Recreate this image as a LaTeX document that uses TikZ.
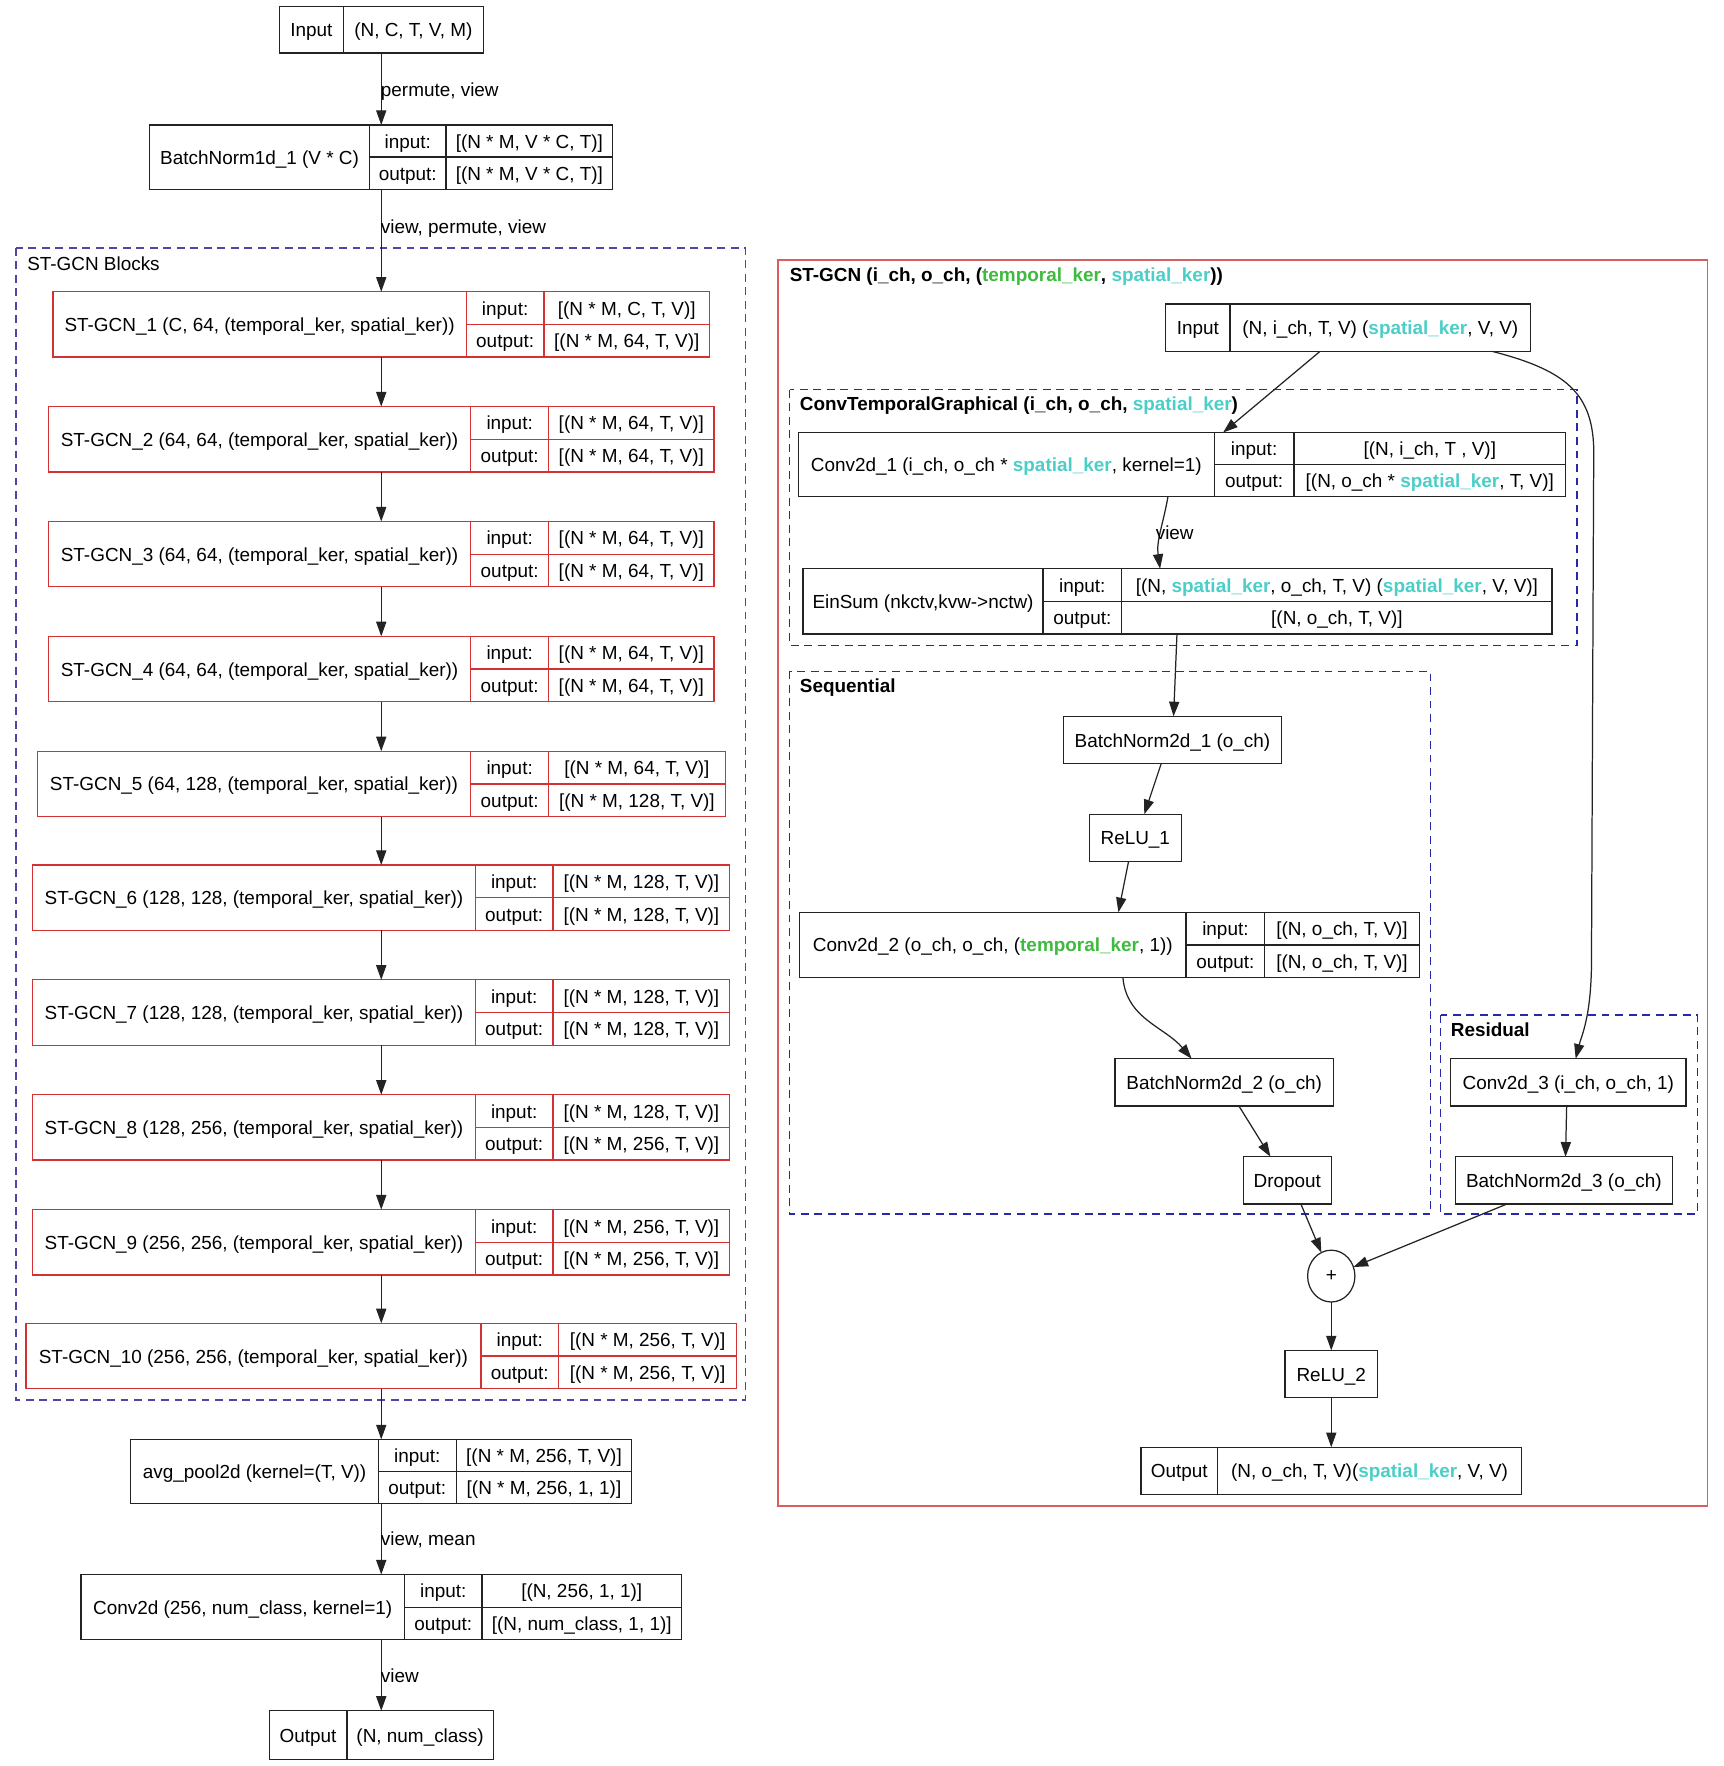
\documentclass[tikz,border=0pt]{standalone}
\usepackage{fontspec}
\setmainfont{Liberation Sans}
\usetikzlibrary{arrows.meta,shapes.geometric}
\definecolor{kgreen}{RGB}{62,186,62}
\definecolor{kcyan}{RGB}{76,206,200}
\definecolor{nred}{RGB}{210,50,50}
\definecolor{cred}{RGB}{215,95,95}
\definecolor{cblueA}{RGB}{80,70,165}
\definecolor{cblueB}{RGB}{40,40,170}
\definecolor{lc}{RGB}{35,35,35}
\newcommand\TK{\textcolor{kgreen}{\bfseries temporal\_ker}}
\newcommand\SK{\textcolor{kcyan}{\bfseries spatial\_ker}}
\newcommand\fs{\fontsize{16.8}{20}\selectfont}
\newcommand\Rec[8]{%
  \node[box, draw=#8, minimum width={(#4-#2)*1pt}, minimum height={(#5-#3)*1pt}] (#1) at ({(#2+#4)/2},{(#3+#5)/2}) {};
  \draw[draw=#8, line width=1.1pt] (#6,#3) -- (#6,#5) (#7,#3) -- (#7,#5) (#6,{(#3+#5)/2}) -- (#4,{(#3+#5)/2});
  \coordinate (#1-n) at ({(#2+#6)/2},{(#3+#5)/2});
  \coordinate (#1-i) at ({(#6+#7)/2},{(3*#3+#5)/4});
  \coordinate (#1-o) at ({(#6+#7)/2},{(#3+3*#5)/4});
  \coordinate (#1-iv) at ({(#7+#4)/2},{(3*#3+#5)/4});
  \coordinate (#1-ov) at ({(#7+#4)/2},{(#3+3*#5)/4});
}
\newcommand\RecTxt[4]{%
  \node[txt] (#1-N) at (#1-n) {#2};
  \node[txt] (#1-I) at (#1-i) {input:};
  \node[txt] (#1-O) at (#1-o) {output:};
  \node[txt] (#1-IV) at (#1-iv) {#3};
  \node[txt] (#1-OV) at (#1-ov) {#4};
}
\newcommand\Two[8]{%
  \node[box, minimum width={(#4-#2)*1pt}, minimum height={(#5-#3)*1pt}] (#1) at ({(#2+#4)/2},{(#3+#5)/2}) {};
  \draw[lc, line width=1.1pt] (#6,#3) -- (#6,#5);
  \node[txt] (#1-A) at ({(#2+#6)/2},{(#3+#5)/2}) {#7};
  \node[txt] (#1-B) at ({(#6+#4)/2},{(#3+#5)/2}) {#8};
}
\begin{document}
\begin{tikzpicture}[x=1pt,y=-1pt,
  box/.style={draw=lc, line width=1.1pt, inner sep=0pt, outer sep=0pt},
  txt/.style={inner sep=0pt, text height=15.5pt, text depth=3pt, font=\fs},
  sbox/.style={box, txt, minimum height=42pt},
  lbl/.style={inner sep=0pt, text height=15.5pt, text depth=3pt, font=\fs, anchor=west},
  blbl/.style={lbl, font=\fs\bfseries},
  arr/.style={draw=lc, line width=1.1pt, -{Triangle[length=13pt,width=9pt]}},
  dashA/.style={draw=cblueA, line width=1.3pt, dash pattern=on 7pt off 5pt},
  dashB/.style={draw=cblueB, line width=1.3pt, dash pattern=on 7pt off 5pt},
]
\useasboundingbox (0,0) rectangle (1530,1568);

% ---------- clusters ----------
\draw[dashA] (14,220) rectangle (662,1243);
\node[lbl] (lblocks) at (24,234) {ST-GCN Blocks};
\draw[draw=cred, line width=1.4pt] (691,231) rectangle (1516,1337);
\node[blbl] (lstgcn) at (701,244) {ST-GCN (i\_ch, o\_ch, (\TK, \SK))};
\draw[dashB] (701,346) rectangle (1400,573);
\node[blbl] (lctg) at (710,358) {ConvTemporalGraphical (i\_ch, o\_ch, \SK)};
\draw[dashB] (701,596) rectangle (1270,1078);
\node[blbl] (lseq) at (710,609) {Sequential};
\draw[dashB] (1279,901) rectangle (1507,1078);
\node[blbl] (lres) at (1288,914) {Residual};

% ---------- left column ----------
\Two{inp}{248}{6}{429}{47}{305}{Input}{(N, C, T, V, M)}
\Rec{bn1}{133}{111}{544}{168}{328}{396}{lc}
\RecTxt{bn1}{BatchNorm1d\_1 (V * C)}{[(N * M, V * C, T)]}{[(N * M, V * C, T)]}

\Rec{st1}{47}{259}{630}{317}{414}{483}{nred}
\RecTxt{st1}{ST-GCN\_1 (C, 64, (temporal\_ker, spatial\_ker))}{[(N * M, C, T, V)]}{[(N * M, 64, T, V)]}
\Rec{st2}{43}{361}{634}{419}{418}{487}{nred}
\RecTxt{st2}{ST-GCN\_2 (64, 64, (temporal\_ker, spatial\_ker))}{[(N * M, 64, T, V)]}{[(N * M, 64, T, V)]}
\Rec{st3}{43}{463}{634}{521}{418}{487}{nred}
\RecTxt{st3}{ST-GCN\_3 (64, 64, (temporal\_ker, spatial\_ker))}{[(N * M, 64, T, V)]}{[(N * M, 64, T, V)]}
\Rec{st4}{43}{565}{634}{623}{418}{487}{nred}
\RecTxt{st4}{ST-GCN\_4 (64, 64, (temporal\_ker, spatial\_ker))}{[(N * M, 64, T, V)]}{[(N * M, 64, T, V)]}
\Rec{st5}{33}{667}{644}{725}{418}{487}{nred}
\RecTxt{st5}{ST-GCN\_5 (64, 128, (temporal\_ker, spatial\_ker))}{[(N * M, 64, T, V)]}{[(N * M, 128, T, V)]}
\Rec{st6}{29}{768}{648}{826}{422}{491}{nred}
\RecTxt{st6}{ST-GCN\_6 (128, 128, (temporal\_ker, spatial\_ker))}{[(N * M, 128, T, V)]}{[(N * M, 128, T, V)]}
\Rec{st7}{29}{870}{648}{928}{422}{491}{nred}
\RecTxt{st7}{ST-GCN\_7 (128, 128, (temporal\_ker, spatial\_ker))}{[(N * M, 128, T, V)]}{[(N * M, 128, T, V)]}
\Rec{st8}{29}{972}{648}{1030}{422}{491}{nred}
\RecTxt{st8}{ST-GCN\_8 (128, 256, (temporal\_ker, spatial\_ker))}{[(N * M, 128, T, V)]}{[(N * M, 256, T, V)]}
\Rec{st9}{29}{1074}{648}{1132}{422}{491}{nred}
\RecTxt{st9}{ST-GCN\_9 (256, 256, (temporal\_ker, spatial\_ker))}{[(N * M, 256, T, V)]}{[(N * M, 256, T, V)]}
\Rec{st10}{23}{1175}{654}{1233}{427}{496}{nred}
\RecTxt{st10}{ST-GCN\_10 (256, 256, (temporal\_ker, spatial\_ker))}{[(N * M, 256, T, V)]}{[(N * M, 256, T, V)]}

\Rec{avg}{116}{1278}{561}{1335}{336}{405}{lc}
\RecTxt{avg}{avg\_pool2d (kernel=(T, V))}{[(N * M, 256, T, V)]}{[(N * M, 256, 1, 1)]}
\Rec{cv}{72}{1398}{605}{1456}{359}{428}{lc}
\RecTxt{cv}{Conv2d (256, num\_class, kernel=1)}{[(N, 256, 1, 1)]}{[(N, num\_class, 1, 1)]}
\Two{outl}{239}{1519}{438}{1562}{308}{Output}{(N, num\_class)}

\draw[arr] (inp.south) -- (bn1.north);
\node[lbl] (e1) at (338,79) {permute, view};
\draw[arr] (bn1.south) -- (st1.north);
\node[lbl] (e2) at (338,201) {view, permute, view};
\draw[arr] (st1.south) -- (st2.north);
\draw[arr] (st2.south) -- (st3.north);
\draw[arr] (st3.south) -- (st4.north);
\draw[arr] (st4.south) -- (st5.north);
\draw[arr] (st5.south) -- (st6.north);
\draw[arr] (st6.south) -- (st7.north);
\draw[arr] (st7.south) -- (st8.north);
\draw[arr] (st8.south) -- (st9.north);
\draw[arr] (st9.south) -- (st10.north);
\draw[arr] (st10.south) -- (avg.north);
\draw[arr] (avg.south) -- (cv.north);
\node[lbl] (e3) at (338,1366) {view, mean};
\draw[arr] (cv.south) -- (outl.north);
\node[lbl] (e4) at (338,1488) {view};

% ---------- right side ----------
\Two{ri}{1035}{270}{1359}{312}{1092}{Input}{(N, i\_ch, T, V) (\SK, V, V)}
\Rec{c1}{709}{384}{1390}{441}{1078}{1149}{lc}
\RecTxt{c1}{Conv2d\_1 (i\_ch, o\_ch * \SK, kernel=1)}{[(N, i\_ch, T , V)]}{[(N, o\_ch * \SK, T, V)]}
\Rec{es}{713}{505}{1378}{563}{926}{996}{lc}
\RecTxt{es}{EinSum (nkctv,kvw->nctw)}{[(N, \SK, o\_ch, T, V) (\SK, V, V)]}{[(N, o\_ch, T, V)]}
\node[sbox, minimum width=194pt] (bn21) at (1041,657) {BatchNorm2d\_1 (o\_ch)};
\node[sbox, minimum width=82pt] (relu1) at (1008,744) {ReLU\_1};
\Rec{c2}{710}{810}{1260}{868}{1053}{1123}{lc}
\RecTxt{c2}{Conv2d\_2 (o\_ch, o\_ch, (\TK, 1))}{[(N, o\_ch, T, V)]}{[(N, o\_ch, T, V)]}
\node[sbox, minimum width=194pt] (bn22) at (1087,961) {BatchNorm2d\_2 (o\_ch)};
\node[sbox, minimum width=78pt] (drop) at (1143,1048) {Dropout};
\node[sbox, minimum width=209pt] (c3) at (1392.5,961) {Conv2d\_3 (i\_ch, o\_ch, 1)};
\node[sbox, minimum width=193pt] (bn23) at (1388.5,1048) {BatchNorm2d\_3 (o\_ch)};
\node[box, ellipse, minimum width=42pt, minimum height=46pt, font=\fs] (plus) at (1182,1133) {+};
\node[sbox, minimum width=82pt] (relu2) at (1182,1220) {ReLU\_2};
\Two{outr}{1013}{1285}{1351}{1327}{1081}{Output}{(N, o\_ch, T, V)(\SK, V, V)}

\draw[arr] ([xshift=-25pt]ri.south) -- ([xshift=36.5pt]c1.north);
\draw[arr] ([xshift=-12.5pt]c1.south) to[out=-100,in=98] ([xshift=-15.5pt]es.north);
\node[lbl] (e5) at (1026,473) {view};
\draw[arr] ([xshift=-0.5pt]es.south) -- ([xshift=1pt]bn21.north);
\draw[arr] ([xshift=-10pt]bn21.south) -- ([xshift=8pt]relu1.north);
\draw[arr] ([xshift=-6pt]relu1.south) -- ([xshift=8pt]c2.north);
\draw[arr] ([xshift=12pt]c2.south) to[out=-85,in=130] ([xshift=-29pt]bn22.north);
\draw[arr] ([xshift=13pt]bn22.south) -- ([xshift=-15pt]drop.north);
\draw[arr] ([xshift=12pt]drop.south) -- (plus);
\draw[arr] ([xshift=-50.5pt]bn23.south) -- (plus);
\draw[arr] ([xshift=-1.5pt]c3.south) -- ([xshift=1.5pt]bn23.north);
\draw[arr] (plus.south) -- (relu2.north);
\draw[arr] (relu2.south) -- (outr.north);
\draw[arr] ([xshift=128pt]ri.south) .. controls (1395,330) and (1417,352) .. (1415,410) -- (1413,860) .. controls (1412,905) and (1404,920) .. ([xshift=6.5pt]c3.north);
\end{tikzpicture}
\end{document}
